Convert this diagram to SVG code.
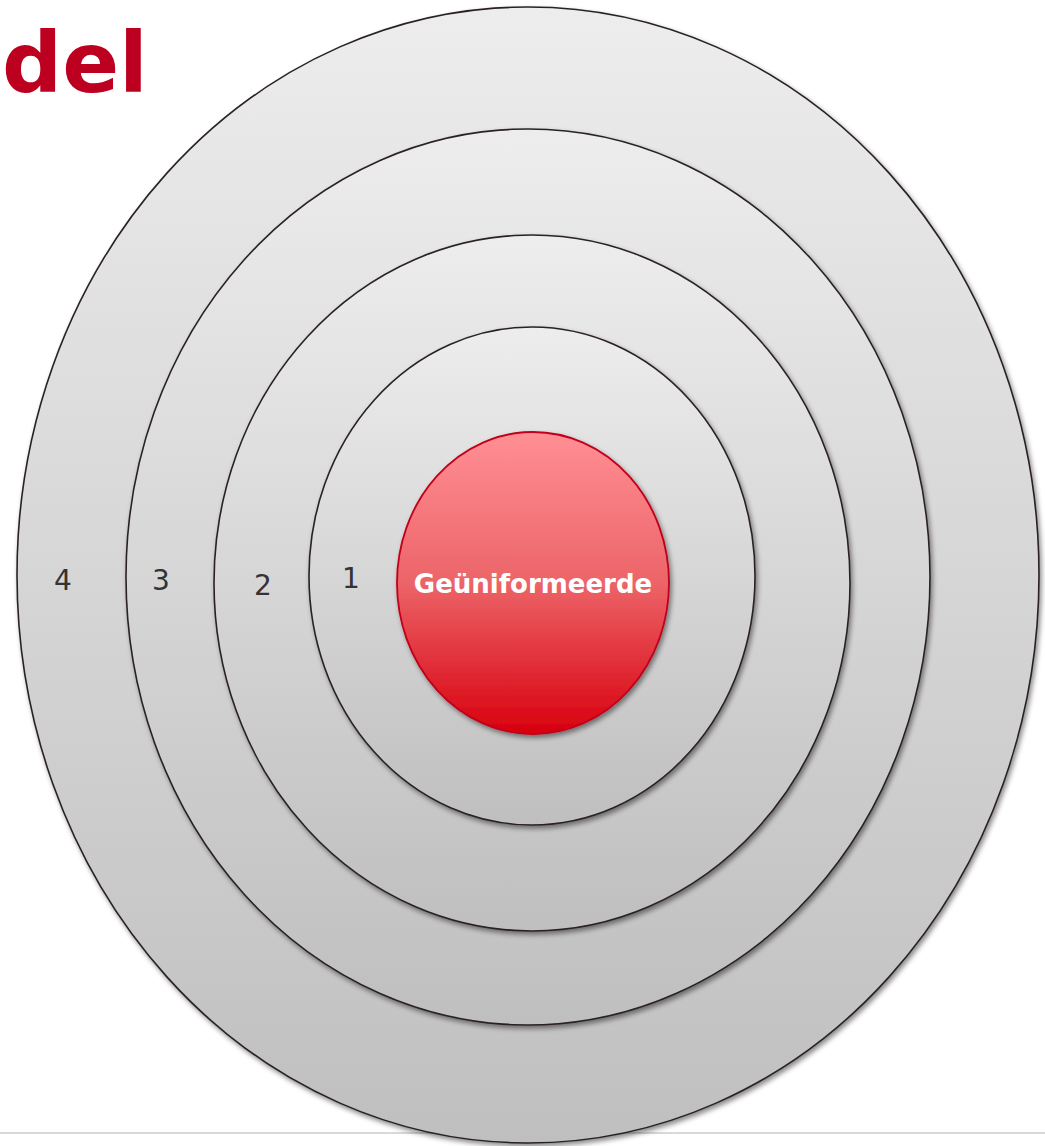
<svg xmlns="http://www.w3.org/2000/svg" width="1045" height="1146" viewBox="0 0 1045 1146">
<defs>
<linearGradient id="g" x1="0" y1="0" x2="0" y2="1">
<stop offset="0" stop-color="#ededed"/>
<stop offset="1" stop-color="#bfbfbf"/>
</linearGradient>
<linearGradient id="r" x1="0" y1="0" x2="0" y2="1">
<stop offset="0" stop-color="#ff8f94"/>
<stop offset="0.5" stop-color="#ec6468"/>
<stop offset="1" stop-color="#d8000e"/>
</linearGradient>
<filter id="sh" x="-5%" y="-5%" width="110%" height="110%">
<feDropShadow dx="2" dy="3" stdDeviation="2.5" flood-color="#000" flood-opacity="0.45"/>
</filter>
</defs>
<style>
.ring{fill:url(#g);stroke:#2b2224;stroke-width:1.6;filter:url(#sh)}
.core{fill:url(#r);stroke:#c0001a;stroke-width:1.8;filter:url(#sh)}
.num{font-family:"DejaVu Sans",Verdana,sans-serif;font-size:28px;fill:#333;text-anchor:middle}
.lbl{font-family:"DejaVu Sans",Verdana,sans-serif;font-size:26px;font-weight:bold;fill:#fff;text-anchor:middle}
</style>
<rect width="1045" height="1146" fill="#fff"/>
<line x1="0" y1="1133" x2="1045" y2="1133" stroke="#d9d9d9" stroke-width="2"/>
<text x="2" y="92" font-family="DejaVu Sans,Verdana,sans-serif" font-weight="bold" font-size="84" fill="#bd0020">del</text>
<g id="ring4"><ellipse class="ring" cx="528" cy="575" rx="511" ry="568"/><text class="num" x="63" y="590">4</text></g>
<g id="ring3"><ellipse class="ring" cx="528" cy="577" rx="402" ry="448"/><text class="num" x="161" y="590">3</text></g>
<g id="ring2"><ellipse class="ring" cx="532" cy="583" rx="318" ry="348"/><text class="num" x="263" y="595">2</text></g>
<g id="ring1"><ellipse class="ring" cx="532" cy="576" rx="223" ry="249"/><text class="num" x="351" y="588">1</text></g>
<g id="core"><ellipse class="core" cx="533" cy="583" rx="136" ry="151"/><text class="lbl" x="533" y="593">Geüniformeerde</text></g>
<g id="connectors"/>
</svg>
